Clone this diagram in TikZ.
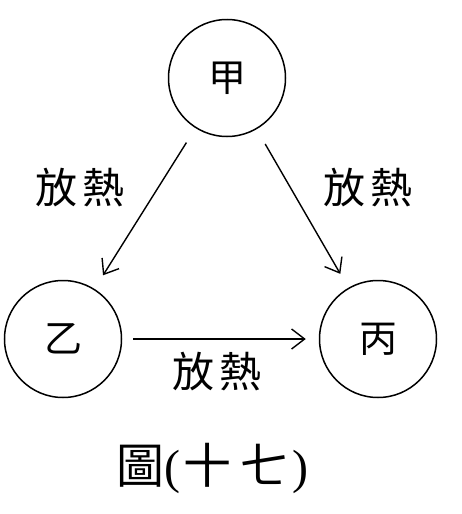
\documentclass[tikz,border=0pt]{standalone}
\usepackage{fontspec}
\setmainfont{Liberation Serif}
\newfontfamily\cjk{Noto Sans CJK TC}
\usetikzlibrary{positioning, arrows.meta}

\begin{document}
\begin{tikzpicture}[x=1pt,y=-1pt,
  state/.style={draw, circle, line width=1.5pt, minimum size=117pt, inner sep=0pt, font=\fontsize{38}{38}\cjk},
  flow/.style={line width=1.4pt, -{Straight Barb[length=13pt,width=20pt,line width=1.4pt]}},
  heatlabel/.style={font=\fontsize{42}{42}\cjk, inner sep=0pt}]

% frame
\useasboundingbox (0,0) rectangle (461,514);

% substances
\node[state] (jia) at (227,78) {甲};
\node[state] (yi) at (63,339) {乙};
\node[state] (bing) at (378,339) {丙};

% heat flow
\draw[flow, shorten <=17pt, shorten >=16pt] (jia) -- (yi);
\draw[flow, shorten <=17pt, shorten >=16pt] (jia) -- (bing);
\draw[flow, shorten <=11pt, shorten >=13pt] (yi) -- (bing);

% labels
\node[heatlabel] (lleft) at (80,188) {放\hspace{6pt}熱};
\node[heatlabel] (lright) at (368,188) {放\hspace{6pt}熱};
\node[heatlabel] (lbottom) at (217,372) {放\hspace{6pt}熱};

% caption
\node[font=\fontsize{48}{48}\selectfont, inner sep=0pt] (caption) at (212,468)
  {{\cjk 圖}(\hspace{3pt}{\cjk 十\hspace{10pt}七}\hspace{3pt})};
\end{tikzpicture}
\end{document}
